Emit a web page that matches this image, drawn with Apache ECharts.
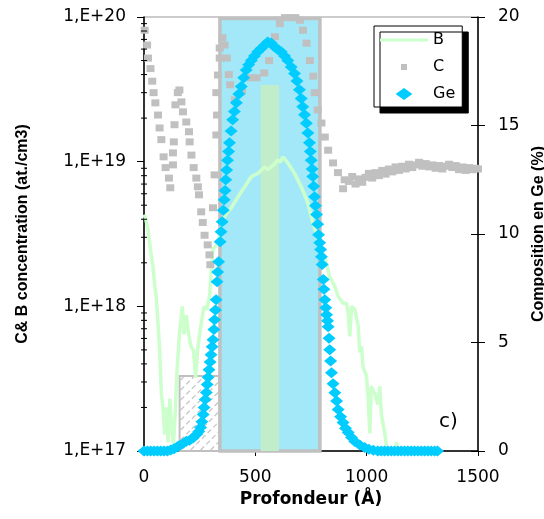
<!DOCTYPE html>
<html><head><meta charset="utf-8">
<script src="https://cdn.jsdelivr.net/npm/echarts@6/dist/echarts.min.js"></script>
<style>html,body{margin:0;padding:0;background:#fff}#c{width:544px;height:519px}</style>
</head><body><div id="c"></div>
<script>
// Depth (Å), concentration (at/cm3) — boron
const bData = [[0,4.3e18],[8,4.0e18],[18,3.4e18],[30,2.4e18],[40,1.9e18],[48,1.4e18],[55,1.15e18],[63,7.5e17],[70,5.2e17],[78,2.5e17],[85,2.0e17],[93,1.3e17],[100,2.0e17],[108,1.15e17],[116,2.3e17],[124,1.5e17],[132,1.1e17],[140,1.8e17],[148,3.5e17],[160,6.7e17],[172,1.0e18],[180,6.4e17],[190,8.7e17],[200,6.5e17],[212,5.2e17],[222,5.0e17],[232,3.2e17],[242,5.2e17],[252,6.8e17],[262,8.5e17],[270,1.0e18],[282,9.5e17],[295,1.2e18],[302,1.73e18],[310,2.5e18],[322,2.6e18],[332,2.8e18],[347,3.5e18],[362,4.2e18],[392,4.8e18],[422,5.7e18],[452,6.7e18],[482,7.9e18],[512,8.3e18],[541,9.2e18],[556,8.8e18],[571,9.2e18],[586,9.6e18],[601,1.03e19],[612,9.9e18],[624,1.08e19],[646,9.8e18],[676,8.3e18],[706,6.7e18],[736,5.2e18],[758,3.8e18],[785,2.8e18],[812,2.2e18],[834,1.6e18],[857,1.37e18],[872,1.17e18],[894,1.05e18],[909,1.05e18],[917,9e17],[924,6.2e17],[932,1.0e18],[947,9.5e17],[962,7.3e17],[969,4.8e17],[977,5.3e17],[984,3.8e17],[999,3.3e17],[1007,2.3e17],[1014,1.33e17],[1021,2.8e17],[1036,2.5e17],[1051,2.1e17],[1059,2.8e17],[1066,1.8e17],[1081,1.33e17],[1089,1.08e17],[1100,8e16],[1120,7e16],[1134,1.15e17],[1142,8e16]];

// Depth (Å), concentration (at/cm3) — carbon
const cData = [[3,8.1e19],[14,6.4e19],[18,5.2e19],[29,4.4e19],[37,3.6e19],[43,3.0e19],[51,2.55e19],[63,2.1e19],[70,1.71e19],[78,1.42e19],[88,1.08e19],[97,9.1e18],[112,7.7e18],[118,6.6e18],[130,9.5e18],[130,1.15e19],[134,1.37e19],[137,1.8e19],[141,2.47e19],[152,3.0e19],[159,3.13e19],[168,2.59e19],[175,2.21e19],[190,1.88e19],[202,1.61e19],[205,1.37e19],[213,1.11e19],[223,9.1e18],[235,7.7e18],[242,6.7e18],[247,5.9e18],[257,4.5e18],[264,3.8e18],[272,3.1e18],[286,2.66e18],[294,2.27e18],[298,1.94e18],[310,4.8e18],[317,8.1e18],[325,1.53e19],[328,2.1e19],[325,3.0e19],[332,3.97e19],[340,5.2e19],[340,6.1e19],[352,7.2e19],[362,6.4e19],[372,5.2e19],[381,4.0e19],[387,3.4e19],[408,2.67e19],[440,3.1e19],[480,3.8e19],[506,3.8e19],[540,4.1e19],[562,5.0e19],[588,7.3e19],[610,9.0e19],[633,9.9e19],[660,9.9e19],[680,9.9e19],[700,9.5e19],[714,8.1e19],[730,6.6e19],[745,5.0e19],[760,3.9e19],[767,3.0e19],[780,2.28e19],[797,1.85e19],[812,1.48e19],[827,1.2e19],[849,9.8e18],[871,8.4e18],[894,6.5e18],[901,7.5e18],[920,7.3e18],[935,7.9e18],[950,7.0e18],[965,7.6e18],[980,7.2e18],[995,7.8e18],[1010,8.3e18],[1025,7.7e18],[1040,8.4e18],[1055,8.0e18],[1070,8.7e18],[1085,8.2e18],[1100,8.9e18],[1115,8.5e18],[1130,9.2e18],[1145,8.7e18],[1160,9.3e18],[1175,8.9e18],[1190,9.6e18],[1205,9.1e18],[1220,9.5e18],[1235,9.9e18],[1250,9.3e18],[1265,9.7e18],[1280,9.2e18],[1295,9.5e18],[1310,9.0e18],[1325,9.4e18],[1340,8.9e18],[1355,9.3e18],[1370,9.6e18],[1385,9.1e18],[1400,9.4e18],[1415,8.8e18],[1430,9.2e18],[1445,8.7e18],[1460,9.1e18],[1475,8.8e18],[1490,9.0e18],[1500,8.9e18]];

// Depth (Å), Ge composition (%)
const geData = [[0,0],[15,0],[30,0],[45,0],[60,0],[75,0],[90,0],[105,0],[120,0.05],[135,0.1],[150,0.2],[160,0.25],[175,0.35],[190,0.45],[205,0.5],[220,0.6],[236,0.76],[246,0.9],[254,1.08],[260,1.35],[266,1.68],[270,2.0],[275,2.37],[280,2.7],[284,3.06],[288,3.4],[292,3.75],[297,4.1],[301,4.44],[306,4.8],[310,5.13],[314,5.6],[317,6.05],[321,6.5],[324,6.97],[328,7.8],[331,8.25],[335,8.72],[342,9.64],[346,10.1],[351,10.56],[356,11.1],[360,11.58],[364,12.0],[367,12.5],[371,12.95],[375,13.4],[380,13.8],[384,14.2],[391,14.75],[398,15.26],[406,15.65],[415,16.05],[426,16.45],[437,16.8],[448,17.2],[459,17.56],[470,17.8],[482,18.0],[496,18.2],[511,18.4],[526,18.55],[541,18.7],[556,18.85],[571,18.8],[586,18.63],[601,18.5],[616,18.4],[631,18.2],[646,18.0],[661,17.7],[676,17.4],[687,17.05],[698,16.65],[706,16.25],[713,15.86],[721,15.5],[729,15.1],[736,14.65],[743,14.2],[747,13.8],[751,13.4],[755,13.0],[758,12.65],[762,12.2],[766,11.72],[770,11.3],[775,10.9],[780,10.45],[784,9.97],[789,9.6],[793,9.28],[797,8.95],[800,8.59],[805,7.9],[808,7.45],[812,6.97],[816,6.6],[820,6.28],[824,6.0],[827,5.73],[831,5.2],[834,4.67],[838,4.15],[842,3.61],[849,3.1],[857,2.69],[865,2.3],[872,1.91],[883,1.58],[894,1.31],[905,1.05],[917,0.85],[932,0.62],[947,0.44],[969,0.28],[991,0.16],[1010,0.08],[1030,0.03],[1050,0],[1065,0],[1080,0],[1095,0],[1110,0],[1125,0],[1140,0],[1155,0],[1170,0],[1185,0],[1200,0],[1215,0],[1230,0],[1245,0],[1260,0],[1275,0],[1290,0],[1305,0],[1318,0]];

// Shaded zones: hatched cap, SiGe layer, boron-doped slab
const zoneFrom = [160, 341, 524];
const zoneTo = [339, 790, 606];
const zoneTop = [3.3e17, 9.75e19, 3.39e19];

// Left-axis minor tick values
const leftMinor = [2e17,3e17,4e17,5e17,6e17,7e17,8e17,9e17,2e18,3e18,4e18,5e18,6e18,7e18,8e18,9e18,2e19,3e19,4e19,5e19,6e19,7e19,8e19,9e19];

const Y_MIN = 1e17;

function renderZone(params, api) {
  const i = params.dataIndex;
  const p0 = api.coord([api.value(0), api.value(2)]);
  const p1 = api.coord([api.value(1), Y_MIN]);
  const x = p0[0], y = p0[1], w = p1[0] - p0[0], h = p1[1] - p0[1];
  if (i === 0) {
    const children = [{type:'rect', shape:{x, y, width:w, height:h}, style:{fill:'#ffffff', stroke:'#C0C0C0', lineWidth:2}}];
    for (let c = x + y + 5; c < x + w + y + h; c += 10) {
      const xa = Math.max(x + 1, c - (y + h - 1)), xb = Math.min(x + w - 1, c - (y + 1));
      if (xb > xa) children.push({type:'line', shape:{x1:xa, y1:c - xa, x2:xb, y2:c - xb}, style:{stroke:'#C8C8C8', lineWidth:1.3, lineDash:[5,3]}});
    }
    return {type:'group', children};
  }
  if (i === 1) {
    return {type:'rect', shape:{x, y, width:w, height:h}, style:{fill:'#A3E8F9', stroke:'#C0C0C0', lineWidth:3.5}};
  }
  return {type:'rect', shape:{x, y, width:w, height:h}, style:{fill:'#C2EDCB'}};
}

function renderMinor(params, api) {
  const p = api.coord([api.value(0), api.value(1)]);
  return {type:'line', shape:{x1:p[0] - 3, y1:p[1], x2:p[0] + 3, y2:p[1]}, style:{stroke:'#000', lineWidth:1}};
}

const labelFont = {fontFamily:'DejaVu Sans', fontSize:17, color:'#000'};

const chart = echarts.init(document.getElementById('c'), null, {renderer:'canvas'});
chart.setOption({
  animation: false,
  backgroundColor: '#fff',
  grid: {left:144, top:17, width:334, height:434, outerBoundsMode:'none', containLabel:false, show:true, borderColor:'#999', borderWidth:1, backgroundColor:'transparent'},
  legend: {
    orient:'vertical', left:374, top:26,
    padding:[6,7,5,6], itemWidth:48, itemHeight:12, itemGap:11,
    backgroundColor:'#fff', borderColor:'#000', borderWidth:1,
    shadowColor:'#000', shadowBlur:0, shadowOffsetX:6, shadowOffsetY:6,
    textStyle:{fontFamily:'DejaVu Sans', fontSize:16, color:'#000'},
    data:[
      {name:'B', icon:'path://M0,0L48,0L48,3L0,3Z'},
      {name:'C', icon:'path://M0,0M12,12M3,3L9,3L9,9L3,9Z'},
      {name:'Ge', icon:'path://M0,5L7,0L14,5L7,10Z'}
    ]
  },
  xAxis: {
    type:'value', min:0, max:1500, interval:500,
    name:'Profondeur (Å)', nameLocation:'middle', nameGap:36,
    nameTextStyle:{fontFamily:'DejaVu Sans', fontWeight:'bold', fontSize:17, color:'#000'},
    axisLine:{show:true, onZero:false, lineStyle:{color:'#000', width:1.5}},
    axisTick:{show:true, length:5, lineStyle:{color:'#000'}},
    axisLabel:Object.assign({margin:18, formatter:v => String(v)}, labelFont),
    splitLine:{show:false}
  },
  yAxis: [
    {
      type:'log', logBase:10, min:1e17, max:1e20, position:'left',
      name:'C& B concentration (at./cm3)', nameLocation:'middle', nameGap:113,
      nameTextStyle:{fontFamily:'Liberation Sans', fontWeight:'bold', fontSize:16, color:'#000'},
      axisLine:{show:true, lineStyle:{color:'#000', width:1.5}},
      axisTick:{show:true, length:7, lineStyle:{color:'#000'}},
      axisLabel:Object.assign({margin:18, formatter:v => '1,E+' + Math.round(Math.log10(v))}, labelFont),
      splitLine:{show:false}
    },
    {
      type:'value', min:0, max:20, interval:5, position:'right',
      name:'Composition en Ge (%)', nameLocation:'middle', nameGap:50,
      nameTextStyle:{fontFamily:'Liberation Sans', fontWeight:'bold', fontSize:16, color:'#000'},
      axisLine:{show:true, lineStyle:{color:'#000', width:1.5}},
      axisTick:{show:true, length:7, lineStyle:{color:'#000'}},
      axisLabel:Object.assign({margin:20, formatter:v => String(v)}, labelFont),
      splitLine:{show:false}
    },
    {
      type:'value', min:0, max:20, interval:5, position:'right',
      axisLine:{show:false}, axisTick:{show:true, inside:true, length:7, lineStyle:{color:'#000'}},
      axisLabel:{show:false}, splitLine:{show:false}
    }
  ],
  series: [
    {
      type:'custom', name:'zones', yAxisIndex:0, z:1, silent:true,
      renderItem:renderZone, encode:{x:[0,1], y:2},
      data: zoneFrom.map((f, i) => [f, zoneTo[i], zoneTop[i]])
    },
    {
      type:'line', name:'B', yAxisIndex:0, z:2, data:bData,
      symbol:'none', showSymbol:false, clip:true,
      lineStyle:{color:'#CCFFCC', width:3.5}, itemStyle:{color:'#CCFFCC'}
    },
    {
      type:'scatter', name:'C', yAxisIndex:0, z:3, data:cData, clip:false,
      symbol:'rect', symbolSize:[8,7], itemStyle:{color:'#C0C0C0', opacity:1}
    },
    {
      type:'scatter', name:'Ge', yAxisIndex:1, z:4, data:geData, clip:false,
      symbol:'diamond', symbolSize:[13,11], itemStyle:{color:'#00CCFF', opacity:1}
    },
    {
      type:'custom', name:'minorTicks', yAxisIndex:0, z:6, silent:true,
      renderItem:renderMinor, encode:{x:0, y:1},
      data: leftMinor.map(v => [0, v])
    }
  ],
  graphic: [
    {type:'text', left:439, top:412, z:10, style:{text:'c)', fontFamily:'DejaVu Sans', fontSize:20, fill:'#000'}}
  ]
});
</script>
</body></html>
